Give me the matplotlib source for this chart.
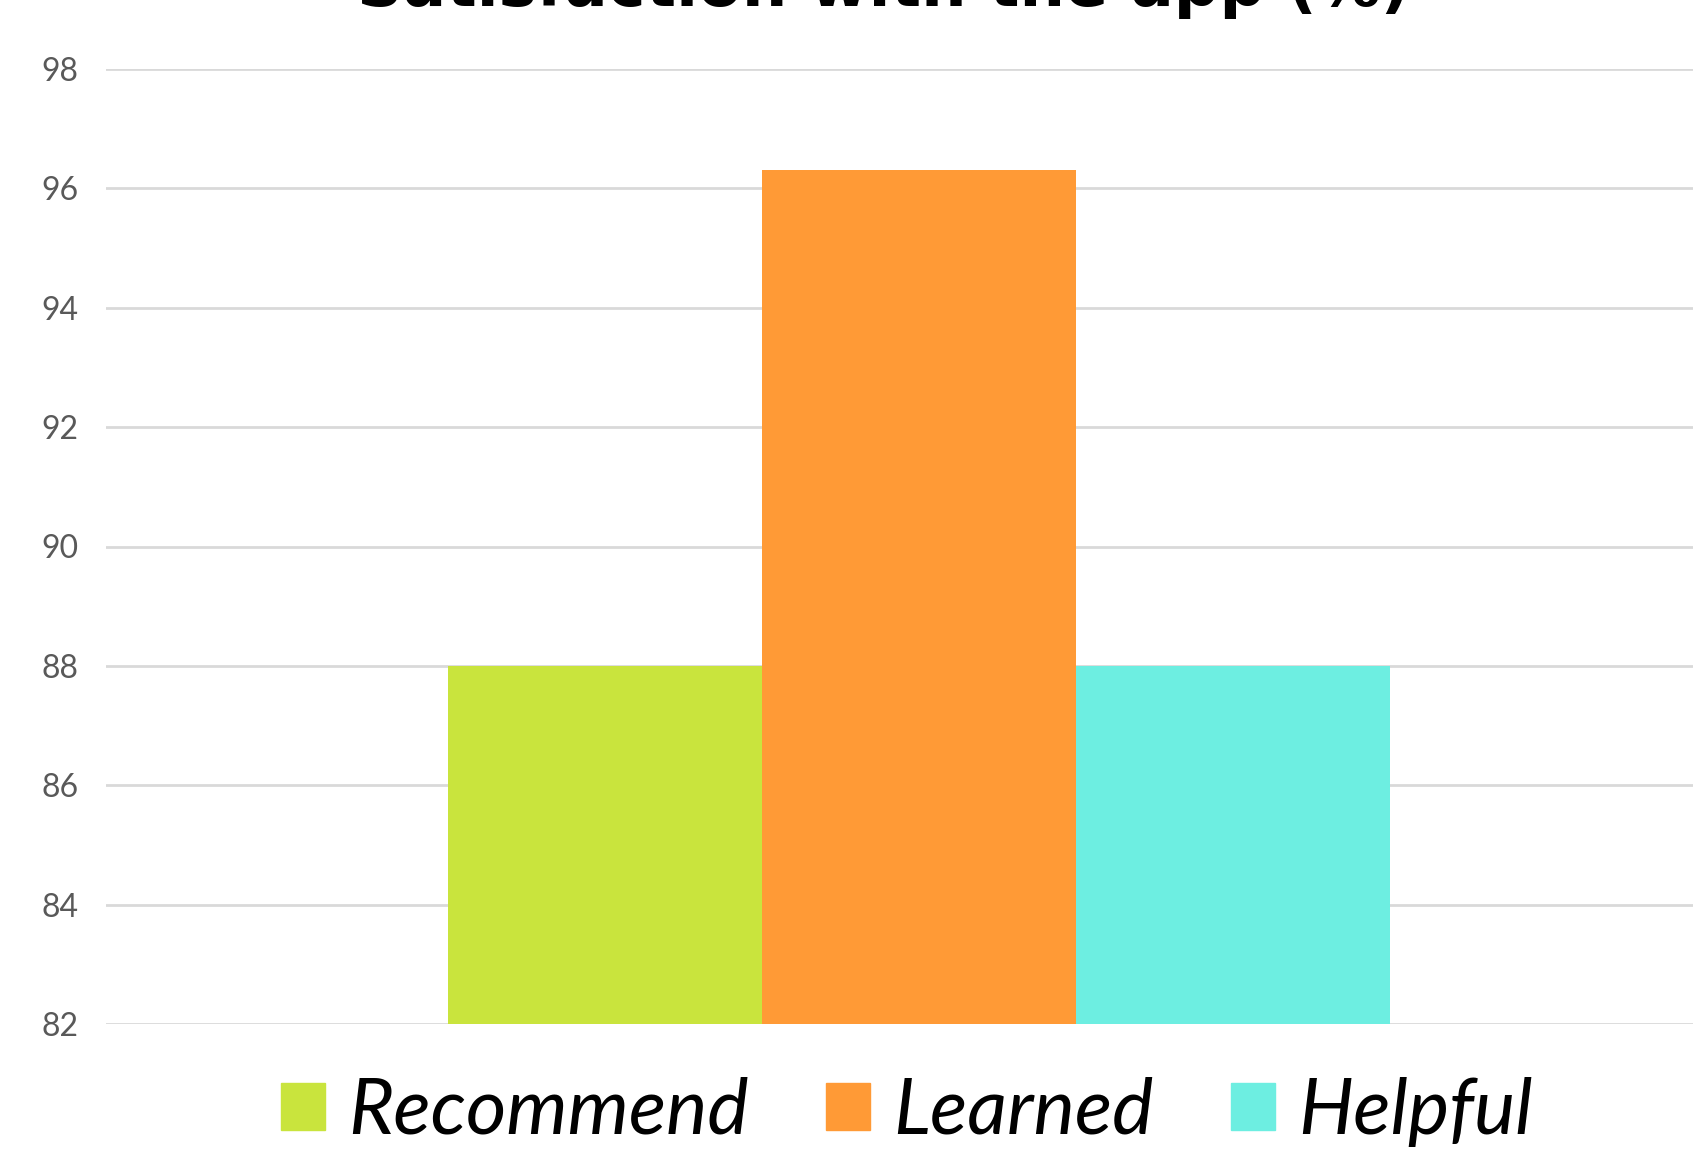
import matplotlib.pyplot as plt
from matplotlib.patches import Patch

# survey results, one bar per answer
series = ["Recommend", "Learned", "Helpful"]
values = [88, 96.3, 88]
colours = ["#C9E43D", "#FF9A36", "#6DEEE1"]
yticks = [82, 84, 86, 88, 90, 92, 94, 96, 98]

fig = plt.figure(figsize=(16.93, 11.52), dpi=100)
ax = fig.add_axes([106 / 1693, 1 - 1024 / 1152, 1626 / 1693, (1024 - 69) / 1152])

width = 0.193
offsets = [-width, 0, width]
for name, val, col, off in zip(series, values, colours, offsets):
    ax.bar(off, val - yticks[0], bottom=yticks[0], width=width, color=col,
           label=name, zorder=3)

ax.set_xlim(-0.5, 0.5)
ax.set_ylim(yticks[0], yticks[-1])
ax.set_yticks(yticks)
ax.set_xticks([])
ax.grid(axis="y", color="#D9D9D9", linewidth=2, zorder=0)
for s in ax.spines.values():
    s.set_visible(False)
ax.tick_params(axis="y", length=0, pad=20, labelsize=23, labelcolor="#595959")
for lab in ax.get_yticklabels():
    lab.set_fontfamily("Lato")

fig.text(883 / 1693, 1 - 6 / 1152, "Satisfaction with the app (%)",
         ha="center", va="baseline", fontsize=46, fontweight="bold",
         color="black")

handles = [Patch(color=c, label=n) for n, c in zip(series, colours)]
fig.legend(handles=handles, loc="center", bbox_to_anchor=(907 / 1693, 0.035),
           ncol=3, frameon=False, prop={"family": "Lato", "style": "italic", "size": 56},
           handlelength=0.56, handleheight=0.56, handletextpad=0.3,
           columnspacing=1.0)

plt.savefig("out.png", dpi=100)
